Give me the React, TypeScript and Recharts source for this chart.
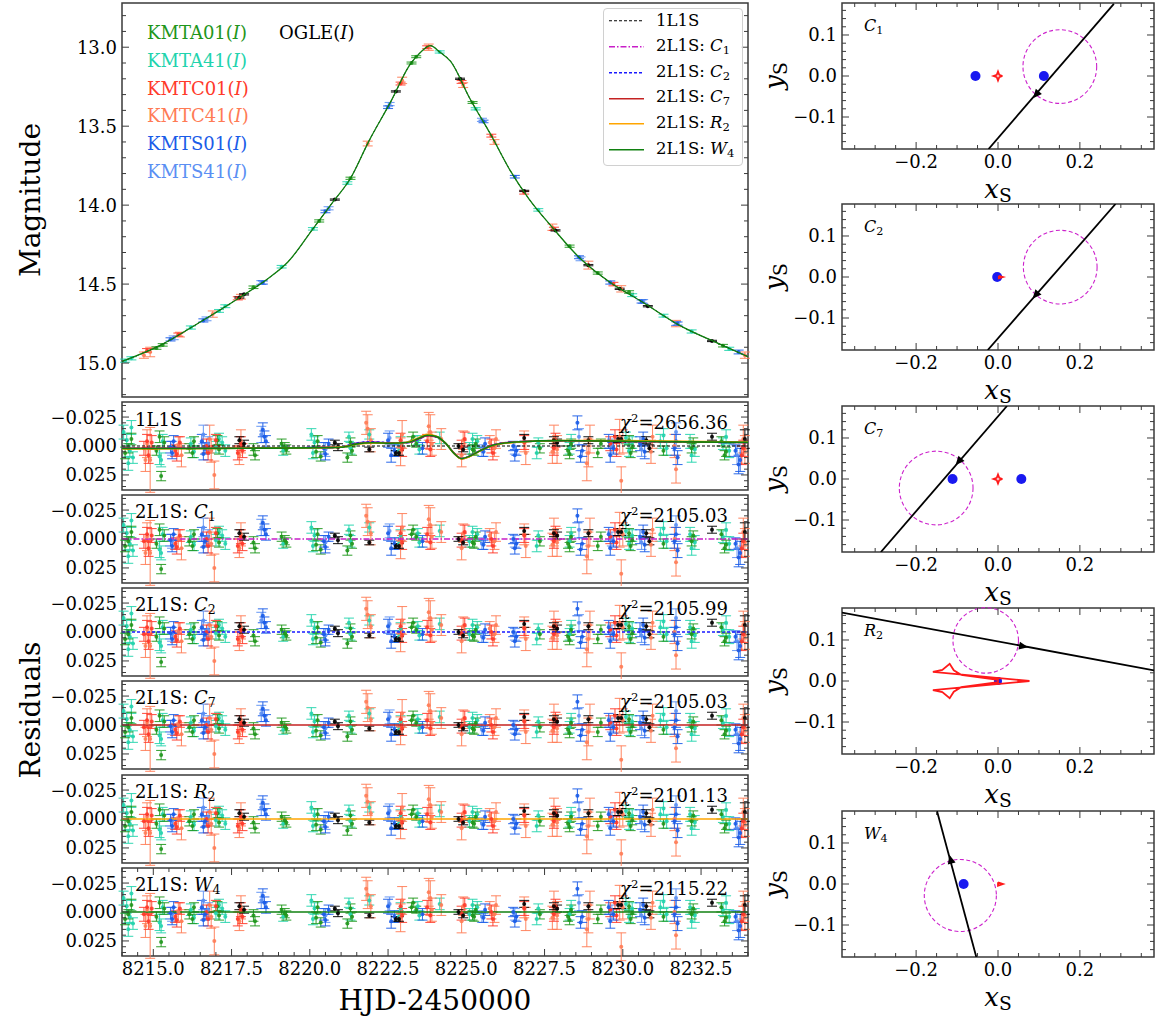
import React from 'react';
import { ScatterChart, Scatter, XAxis, YAxis, ErrorBar, ReferenceLine, ReferenceDot, ReferenceArea } from 'recharts';

const FONT = '"DejaVu Serif", serif';
const FRAME = '#3a3a3a';

// ---------- light curve: [HJD-2450000, I mag, error] ----------
const lcKMTA01 = [[8215.1, 14.905, 0.008], [8215.3, 14.885, 0.008], [8218.2, 14.52, 0.008], [8220.3, 14.1, 0.007], [8221.3, 13.83, 0.007], [8223.25, 13.1, 0.006], [8223.4, 13.06, 0.006], [8225.2, 13.35, 0.006], [8228.3, 14.26, 0.007], [8229.2, 14.43, 0.007], [8230.2, 14.55, 0.008], [8233.2, 14.89, 0.008]];
const lcKMTA41 = [[8214.1, 14.985, 0.01], [8214.3, 14.97, 0.01], [8216.2, 14.775, 0.01], [8217.1, 14.67, 0.009], [8217.3, 14.64, 0.009], [8219.1, 14.39, 0.008], [8220.1, 14.15, 0.008], [8221.2, 13.86, 0.008], [8224.15, 13.03, 0.007], [8225.3, 13.39, 0.007], [8227.3, 14.03, 0.008], [8230.3, 14.57, 0.009], [8231.3, 14.7, 0.009], [8232.2, 14.8, 0.01], [8233.4, 14.91, 0.01]];
const lcKMTC01 = [[8214.8, 14.92, 0.012], [8215.8, 14.82, 0.01], [8217.7, 14.59, 0.01], [8222.9, 13.23, 0.009], [8223.75, 13.0, 0.009], [8224.85, 13.22, 0.009], [8225.8, 13.56, 0.009], [8226.85, 13.92, 0.01], [8227.8, 14.15, 0.01], [8229.7, 14.5, 0.011]];
const lcKMTC41 = [[8214.7, 14.95, 0.02], [8214.9, 14.93, 0.03], [8215.85, 14.82, 0.015], [8216.9, 14.69, 0.02], [8217.8, 14.58, 0.015], [8221.85, 13.61, 0.015], [8222.95, 13.21, 0.02], [8223.8, 13.0, 0.02], [8224.9, 13.24, 0.015], [8225.9, 13.6, 0.015], [8227.75, 14.14, 0.02], [8228.9, 14.38, 0.025], [8229.95, 14.53, 0.02], [8231.7, 14.75, 0.02], [8233.9, 14.95, 0.02]];
const lcKMTS01 = [[8215.55, 14.85, 0.01], [8216.6, 14.73, 0.01], [8218.5, 14.49, 0.01], [8220.5, 14.04, 0.008], [8222.5, 13.38, 0.008], [8225.55, 13.47, 0.008], [8226.55, 13.82, 0.008], [8228.6, 14.33, 0.009], [8229.6, 14.49, 0.01], [8230.6, 14.61, 0.01], [8231.75, 14.75, 0.01], [8233.7, 14.93, 0.012]];
const lcKMTS41 = [[8215.65, 14.84, 0.012], [8216.7, 14.72, 0.012], [8218.45, 14.49, 0.012], [8220.6, 14.02, 0.01], [8222.55, 13.36, 0.01], [8225.5, 13.46, 0.01], [8228.65, 14.34, 0.012], [8230.65, 14.61, 0.012], [8231.7, 14.75, 0.012]];
const lcOGLE = [[8217.75, 14.585, 0.004], [8217.9, 14.565, 0.004], [8220.8, 13.965, 0.004], [8222.75, 13.28, 0.004], [8224.8, 13.2, 0.004], [8226.85, 13.91, 0.004], [8227.85, 14.16, 0.004], [8228.9, 14.38, 0.004], [8229.9, 14.53, 0.004], [8230.8, 14.64, 0.004], [8232.85, 14.86, 0.004]];

const modelT = [8214.0, 8215.2, 8216.5, 8217.8, 8218.7, 8219.3, 8220.1, 8220.7, 8221.3, 8221.9, 8222.6, 8223.2, 8223.55, 8223.85, 8224.15, 8224.5, 8225.1, 8225.8, 8226.4, 8227.0, 8227.7, 8228.6, 8229.6, 8230.6, 8231.8, 8233.1, 8234.0];
const modelMag = [14.99, 14.89, 14.74, 14.58, 14.46, 14.36, 14.15, 13.99, 13.83, 13.59, 13.34, 13.11, 13.03, 12.99, 13.03, 13.09, 13.32, 13.56, 13.78, 13.96, 14.13, 14.33, 14.49, 14.61, 14.76, 14.88, 14.96];

// ---------- residuals: [HJD-2450000, residual, error] ----------
const resKMTA01 = [[8214.1, 0.006, 0.005], [8214.2, 0.002, 0.004], [8214.3, -0.006, 0.005], [8215.1, 0.004, 0.004], [8215.2, -0.008, 0.005], [8215.25, 0.026, 0.004], [8215.35, -0.003, 0.005], [8216.15, 0.002, 0.004], [8216.25, 0.006, 0.004], [8216.3, -0.004, 0.004], [8217.05, -0.005, 0.004], [8217.1, 0.003, 0.004], [8218.2, 0.003, 0.005], [8218.25, 0.008, 0.004], [8219.1, -0.002, 0.004], [8219.2, 0.001, 0.004], [8219.25, 0.003, 0.004], [8220.2, 0.005, 0.005], [8220.25, -0.004, 0.005], [8220.35, 0.009, 0.004], [8221.2, 0.01, 0.004], [8221.3, -0.003, 0.004], [8221.35, 0.004, 0.004], [8223.25, -0.004, 0.004], [8223.3, -0.008, 0.004], [8223.4, -0.002, 0.003], [8225.2, 0.003, 0.004], [8225.25, 0.004, 0.004], [8225.3, -0.002, 0.004], [8227.35, 0.002, 0.004], [8228.25, 0.004, 0.004], [8228.3, 0.007, 0.004], [8228.35, -0.002, 0.004], [8229.2, 0.006, 0.004], [8229.3, -0.002, 0.004], [8230.2, -0.005, 0.004], [8230.25, 0.006, 0.004], [8230.3, 0.001, 0.004], [8231.3, 0.004, 0.004], [8232.2, 0.002, 0.004], [8232.25, -0.003, 0.004], [8233.15, -0.004, 0.004], [8233.25, 0.008, 0.004], [8233.3, 0.005, 0.004]];
const resKMTA41 = [[8214.05, -0.012, 0.006], [8214.15, -0.005, 0.006], [8214.2, 0.015, 0.006], [8214.25, 0.004, 0.006], [8214.3, -0.016, 0.006], [8214.35, 0.01, 0.005], [8215.2, 0.009, 0.007], [8215.25, 0.012, 0.006], [8215.3, -0.004, 0.006], [8216.2, -0.002, 0.005], [8216.3, 0.005, 0.005], [8217.0, 0.001, 0.005], [8217.1, -0.006, 0.005], [8217.2, -0.003, 0.005], [8217.3, 0.004, 0.005], [8219.15, 0.004, 0.004], [8220.05, -0.01, 0.005], [8220.1, 0.006, 0.005], [8220.15, -0.003, 0.005], [8221.25, -0.008, 0.004], [8221.3, 0.002, 0.005], [8221.9, -0.01, 0.004], [8222.85, 0.004, 0.005], [8222.9, -0.003, 0.005], [8223.45, -0.005, 0.004], [8223.5, 0.003, 0.004], [8224.15, -0.007, 0.005], [8225.1, 0.002, 0.005], [8225.2, -0.006, 0.005], [8225.35, -0.004, 0.005], [8227.25, 0.006, 0.005], [8227.3, -0.003, 0.004], [8228.3, 0.002, 0.005], [8228.35, -0.005, 0.005], [8230.1, -0.007, 0.005], [8230.2, 0.004, 0.005], [8230.3, -0.003, 0.005], [8231.2, -0.004, 0.006], [8231.3, -0.009, 0.006], [8231.4, 0.002, 0.006], [8232.15, -0.004, 0.006], [8232.2, 0.008, 0.006], [8232.3, 0.003, 0.006], [8233.2, -0.002, 0.005], [8233.3, -0.008, 0.006], [8233.4, 0.004, 0.006]];
const resKMTC01 = [[8214.7, 0.002, 0.006], [8214.8, -0.004, 0.006], [8214.85, 0.008, 0.007], [8214.95, -0.003, 0.006], [8215.7, 0.004, 0.005], [8215.75, 0.007, 0.006], [8215.85, -0.003, 0.005], [8216.7, 0.0, 0.006], [8216.75, 0.006, 0.006], [8217.0, -0.005, 0.005], [8217.7, 0.006, 0.006], [8217.8, -0.002, 0.006], [8217.85, 0.004, 0.006], [8222.9, -0.005, 0.006], [8222.95, 0.003, 0.006], [8223.75, -0.004, 0.006], [8223.85, 0.003, 0.006], [8224.85, 0.001, 0.006], [8224.95, -0.006, 0.006], [8225.8, 0.0, 0.006], [8225.85, 0.006, 0.006], [8226.85, -0.003, 0.006], [8227.8, 0.002, 0.006], [8227.85, -0.005, 0.006], [8229.6, -0.002, 0.006], [8229.75, -0.008, 0.006], [8229.8, 0.003, 0.006], [8233.8, 0.008, 0.008], [8233.85, 0.002, 0.007]];
const resKMTC41 = [[8214.75, 0.012, 0.01], [8214.8, -0.002, 0.012], [8214.9, 0.012, 0.028], [8215.8, 0.0, 0.008], [8215.9, 0.008, 0.01], [8216.8, -0.006, 0.012], [8216.85, 0.004, 0.01], [8216.95, 0.025, 0.012], [8217.75, 0.008, 0.008], [8217.8, -0.004, 0.01], [8221.8, -0.02, 0.01], [8221.85, -0.015, 0.012], [8221.95, -0.005, 0.01], [8222.9, 0.005, 0.012], [8222.95, -0.01, 0.012], [8223.8, -0.017, 0.012], [8223.85, -0.012, 0.015], [8223.9, -0.002, 0.01], [8224.2, -0.006, 0.009], [8224.85, 0.008, 0.01], [8224.9, -0.005, 0.008], [8225.75, -0.003, 0.006], [8225.9, 0.002, 0.007], [8225.95, -0.006, 0.008], [8226.85, -0.004, 0.009], [8226.9, 0.006, 0.01], [8227.75, 0.005, 0.01], [8227.8, -0.006, 0.012], [8227.9, 0.003, 0.012], [8228.85, 0.015, 0.015], [8228.9, 0.006, 0.012], [8228.95, -0.006, 0.012], [8229.9, -0.008, 0.015], [8229.95, 0.03, 0.012], [8230.0, -0.004, 0.01], [8230.9, 0.005, 0.01], [8230.95, -0.008, 0.01], [8231.65, 0.0, 0.01], [8231.7, 0.02, 0.012], [8233.85, -0.006, 0.012], [8233.9, 0.003, 0.012]];
const resKMTS01 = [[8215.55, 0.001, 0.005], [8215.6, 0.006, 0.005], [8215.65, -0.004, 0.005], [8216.55, -0.004, 0.006], [8216.6, 0.007, 0.005], [8216.65, 0.002, 0.005], [8218.5, -0.014, 0.006], [8218.55, -0.008, 0.005], [8218.6, -0.004, 0.005], [8220.45, 0.002, 0.005], [8220.5, 0.007, 0.005], [8220.6, -0.002, 0.004], [8222.5, -0.005, 0.006], [8222.6, 0.008, 0.006], [8222.7, 0.004, 0.005], [8223.6, 0.002, 0.005], [8225.55, 0.005, 0.004], [8225.6, -0.002, 0.005], [8226.5, 0.0, 0.004], [8226.55, 0.008, 0.005], [8226.6, 0.004, 0.004], [8228.55, -0.02, 0.006], [8228.65, 0.009, 0.005], [8228.7, 0.004, 0.005], [8229.55, -0.004, 0.006], [8229.6, 0.008, 0.006], [8229.7, 0.002, 0.005], [8230.55, -0.002, 0.006], [8230.65, -0.006, 0.006], [8230.7, 0.005, 0.006], [8231.65, 0.002, 0.006], [8231.7, -0.004, 0.006], [8231.75, 0.01, 0.006], [8233.6, 0.004, 0.005], [8233.7, 0.016, 0.008], [8233.75, 0.012, 0.01]];
const resKMTS41 = [[8215.6, 0.002, 0.006], [8216.6, -0.01, 0.008], [8216.75, -0.002, 0.006], [8218.45, -0.01, 0.007], [8220.5, 0.003, 0.006], [8222.55, -0.007, 0.006], [8225.5, 0.004, 0.005], [8226.55, 0.002, 0.005], [8228.6, -0.008, 0.007], [8229.65, 0.0, 0.006], [8230.6, 0.003, 0.006], [8231.7, -0.012, 0.008], [8233.65, 0.008, 0.008]];
const resOGLE = [[8217.75, -0.005, 0.003], [8217.9, -0.002, 0.003], [8220.8, -0.003, 0.002], [8220.9, 0.001, 0.003], [8221.9, 0.003, 0.002], [8222.75, 0.006, 0.002], [8222.85, 0.006, 0.002], [8224.75, 0.0, 0.002], [8224.9, 0.003, 0.002], [8226.85, -0.007, 0.003], [8227.8, -0.005, 0.003], [8227.9, -0.003, 0.003], [8228.9, -0.005, 0.003], [8229.85, -0.006, 0.003], [8229.95, -0.006, 0.003], [8230.75, -0.005, 0.003], [8230.85, 0.002, 0.003], [8232.85, -0.008, 0.003], [8233.9, -0.006, 0.008]];

// 2L1S models relative to the 1L1S model
const anomT = [8214, 8216, 8218, 8220, 8221, 8221.5, 8222, 8222.6, 8223.1, 8223.45, 8223.75, 8224.05, 8224.35, 8224.6, 8224.85, 8225.1, 8225.45, 8225.9, 8226.6, 8228, 8230, 8232, 8234];
const anomC1 = [0.002, 0.002, 0.0018, 0.0014, 0.0008, -0.0025, -0.0035, -0.0028, -0.0028, -0.0055, -0.0088, -0.0078, -0.0018, 0.0058, 0.0108, 0.0088, 0.0038, -0.0012, -0.0036, -0.0044, -0.004, -0.0034, -0.003];
const anomC2 = [0.002, 0.002, 0.0018, 0.0014, 0.0008, -0.0026, -0.0036, -0.0028, -0.0029, -0.0056, -0.0089, -0.0078, -0.0019, 0.0058, 0.0108, 0.0088, 0.0038, -0.0012, -0.0036, -0.0044, -0.004, -0.0034, -0.003];
const anomC7 = [0.002, 0.002, 0.0018, 0.0015, 0.001, -0.002, -0.003, -0.0025, -0.003, -0.006, -0.009, -0.008, -0.002, 0.006, 0.011, 0.009, 0.004, -0.001, -0.0035, -0.0045, -0.004, -0.0035, -0.003];
const anomR2 = [0.0025, 0.0024, 0.002, 0.0016, 0.001, -0.0015, -0.0025, -0.0022, -0.0032, -0.0068, -0.0102, -0.0085, -0.0022, 0.0062, 0.0112, 0.0092, 0.0042, -0.0008, -0.0032, -0.0048, -0.0046, -0.004, -0.0035];
const anomW4 = [0.0022, 0.0021, 0.0019, 0.0016, 0.0011, -0.0018, -0.0028, -0.0024, -0.003, -0.0062, -0.0093, -0.0081, -0.002, 0.0062, 0.0109, 0.0089, 0.004, -0.001, -0.0034, -0.0046, -0.0042, -0.0036, -0.0031];

const chi2 = ['2656.36', '2105.03', '2105.99', '2105.03', '2101.13', '2115.22'];

// ---------- caustic geometry panels ----------
const lensC1 = [[-0.055, 0], [0.112, 0]];
const trajC1 = [[-0.023, -0.178], [0.283, 0.176]];
const circC1 = [0.151, 0.023, 0.09];
const arrowC1 = [0.095, -0.043, -0.306, -0.355];
const causC1 = [[0.011, 0], [0.003, 0.003], [0, 0.011], [-0.003, 0.003], [-0.011, 0], [-0.003, -0.003], [0, -0.011], [0.003, -0.003], [0.011, 0]];

const lensC2 = [[-0.002, 0]];
const trajC2 = [[-0.025, -0.178], [0.287, 0.178]];
const circC2 = [0.152, 0.024, 0.09];
const arrowC2 = [0.094, -0.042, -0.306, -0.355];
const causC2 = [[0.002, 0.003], [0.012, 0], [0.002, -0.003], [0.002, 0.003]];

const lensC7 = [[-0.111, 0], [0.057, 0]];
const trajC7 = [[-0.286, -0.178], [0.022, 0.178]];
const circC7 = [-0.151, -0.022, 0.09];
const arrowC7 = [-0.094, 0.045, -0.308, -0.356];
const causC7 = [[0.011, 0], [0.003, 0.003], [0, 0.011], [-0.003, 0.003], [-0.011, 0], [-0.003, -0.003], [0, -0.011], [0.003, -0.003], [0.011, 0]];

const lensR2 = [[0, 0]];
const trajR2 = [[-0.381, 0.167], [0.381, 0.026]];
const circR2 = [-0.03, 0.099, 0.08];
const arrowR2 = [0.059, 0.085, 0.762, -0.141];
const causR2 = [[0.077, 0], [-0.159, 0.022], [-0.136, 0.027], [-0.118, 0.042], [-0.108, 0.026], [-0.09, 0.015], [0.0, 0.003], [0.0, -0.003], [-0.09, -0.015], [-0.108, -0.026], [-0.118, -0.042], [-0.136, -0.027], [-0.159, -0.022], [0.077, 0]];

const lensW4 = [[-0.084, 0]];
const trajW4 = [[-0.149, 0.178], [-0.053, -0.178]];
const circW4 = [-0.092, -0.028, 0.088];
const arrowW4 = [-0.115, 0.057, -0.096, 0.356];
const causW4 = [[0.0, 0.004], [0.012, 0], [0.0, -0.004], [0.0, 0.004]];

const causticPanels = [
  { name: 'C', sub: '1', lens: lensC1, traj: trajC1, circ: circC1, arrow: arrowC1, caus: causC1 },
  { name: 'C', sub: '2', lens: lensC2, traj: trajC2, circ: circC2, arrow: arrowC2, caus: causC2 },
  { name: 'C', sub: '7', lens: lensC7, traj: trajC7, circ: circC7, arrow: arrowC7, caus: causC7 },
  { name: 'R', sub: '2', lens: lensR2, traj: trajR2, circ: circR2, arrow: arrowR2, caus: causR2 },
  { name: 'W', sub: '4', lens: lensW4, traj: trajW4, circ: circW4, arrow: arrowW4, caus: causW4 },
];

// ---------- styles ----------
const colors: Record<string, string> = {
  KMTA01: '#1f961c', KMTA41: '#22d3ad', KMTC01: '#ff3a2a', KMTC41: '#ff7b55',
  KMTS01: '#1a5ce8', KMTS41: '#5b8ff3', OGLE: '#000000',
};
const modelStyle: Record<string, { stroke: string; dash?: string; w: number }> = {
  L: { stroke: '#000', dash: '3 2', w: 1 },
  C1: { stroke: '#c81ec8', dash: '6 2 1.5 2', w: 1.4 },
  C2: { stroke: '#1a1aff', dash: '3 2', w: 1.4 },
  C7: { stroke: '#c42222', w: 1.4 },
  R2: { stroke: '#ffa500', w: 1.4 },
  W4: { stroke: '#108010', w: 1.4 },
};

const pts = (a: number[][]) => a.map(([x, y, e]) => ({ x, y, e }));
const curve = (t: number[], v: number[]) => t.map((x, i) => ({ x, y: v[i] }));
const steps = (a: number, b: number, s: number) => {
  const out: number[] = [];
  for (let v = a; v <= b + s / 1000; v += s) out.push(+v.toFixed(4));
  return out;
};
const minus = (s: string) => s.replace('-', '\u2212');
const noShape = () => <g />;
const dotShape = (c: string, r: number) => (p: any) => <circle cx={p.cx} cy={p.cy} r={r} fill={c} fillOpacity={0.9} />;

const tickStyle = { fill: '#000', fontSize: 18, fontFamily: FONT };
const isIn = (list: number[], v: number) => list.some((m) => Math.abs(m - v) < 1e-9);

// inward ticks on both opposite sides (matplotlib style), labels only on majors
const xTick = (plotH: number, major: number[], fmt?: (v: number) => string) => (p: any) => {
  const v = p.payload.value;
  const maj = isIn(major, v);
  const L = maj ? 7 : 4;
  return (
    <g>
      <line x1={p.x} x2={p.x} y1={p.y} y2={p.y - L} stroke={FRAME} strokeWidth={1} />
      <line x1={p.x} x2={p.x} y1={p.y - plotH} y2={p.y - plotH + L} stroke={FRAME} strokeWidth={1} />
      {maj && fmt && (
        <text x={p.x} y={p.y + 19} textAnchor="middle" style={tickStyle}>{fmt(v)}</text>
      )}
    </g>
  );
};
const yTick = (plotW: number, major: number[], fmt: (v: number) => string) => (p: any) => {
  const v = p.payload.value;
  const maj = isIn(major, v);
  const L = maj ? 7 : 4;
  return (
    <g>
      <line x1={p.x} x2={p.x + L} y1={p.y} y2={p.y} stroke={FRAME} strokeWidth={1} />
      <line x1={p.x + plotW - L} x2={p.x + plotW} y1={p.y} y2={p.y} stroke={FRAME} strokeWidth={1} />
      {maj && (
        <text x={p.x - 5} y={p.y} dy="0.36em" textAnchor="end" style={tickStyle}>{fmt(v)}</text>
      )}
    </g>
  );
};

type Frame = {
  xd: [number, number]; yd: [number, number];
  xMaj: number[]; xAll: number[]; yMaj: number[]; yAll: number[];
  xFmt?: (v: number) => string; yFmt: (v: number) => string;
  yW: number; xH: number; pw: number; ph: number; rev?: boolean;
};

function frameAxes(f: Frame) {
  return [
    <XAxis key="x" dataKey="x" type="number" domain={f.xd} allowDataOverflow ticks={f.xAll} interval={0}
      height={f.xH} tickSize={0} tickMargin={0} axisLine={false} tickLine={false} tick={xTick(f.ph, f.xMaj, f.xFmt)} />,
    <YAxis key="y" dataKey="y" type="number" domain={f.yd} allowDataOverflow reversed={f.rev} ticks={f.yAll} interval={0}
      width={f.yW} tickSize={0} tickMargin={0} axisLine={false} tickLine={false} tick={yTick(f.pw, f.yMaj, f.yFmt)} />,
  ];
}
const frameBox = (f: { xd: [number, number]; yd: [number, number] }) => (
  <ReferenceArea x1={f.xd[0]} x2={f.xd[1]} y1={f.yd[0]} y2={f.yd[1]} fill="none" fillOpacity={0} stroke={FRAME} strokeWidth={1.5} />
);

const dataSets: [string, number[][]][] = [
  ['KMTA41', lcKMTA41], ['KMTC41', lcKMTC41], ['KMTS41', lcKMTS41],
  ['KMTA01', lcKMTA01], ['KMTC01', lcKMTC01], ['KMTS01', lcKMTS01], ['OGLE', lcOGLE],
];
const resSets: [string, number[][]][] = [
  ['KMTA41', resKMTA41], ['KMTC41', resKMTC41], ['KMTS41', resKMTS41],
  ['KMTA01', resKMTA01], ['KMTC01', resKMTC01], ['KMTS01', resKMTS01], ['OGLE', resOGLE],
];

const series = (sets: [string, number[][]][]) =>
  sets.map(([name, arr]) => (
    <Scatter key={name} data={pts(arr)} shape={dotShape(colors[name], 2)} isAnimationActive={false}>
      <ErrorBar dataKey="e" direction="y" width={5} stroke={colors[name]} strokeWidth={1.1} strokeOpacity={0.85} />
    </Scatter>
  ));

const X_DOMAIN: [number, number] = [8214, 8234];
const xMajor = [8215, 8217.5, 8220, 8222.5, 8225, 8227.5, 8230, 8232.5];
const xAll = steps(8214, 8234, 0.5);
const LEFT_W = 626;

function MainPanel() {
  const f: Frame = {
    xd: X_DOMAIN, yd: [12.72, 15.215], rev: true,
    xMaj: xMajor, xAll,
    yMaj: [13, 13.5, 14, 14.5, 15], yAll: steps(12.8, 15.2, 0.1),
    yFmt: (v) => v.toFixed(1), yW: 122, xH: 0, pw: LEFT_W, ph: 394,
  };
  return (
    <ScatterChart width={760} height={400} margin={{ top: 3, right: 12, bottom: 3, left: 0 }}>
      {frameAxes(f)}
      {series(dataSets)}
      <Scatter data={curve(modelT, modelMag)} shape={noShape} line={{ stroke: '#000', strokeWidth: 1, strokeDasharray: '3 2' }} lineJointType="monotoneX" isAnimationActive={false} />
      <Scatter data={curve(modelT, modelMag)} shape={noShape} line={{ stroke: '#108010', strokeWidth: 1.3 }} lineJointType="monotoneX" isAnimationActive={false} />
      {frameBox(f)}
    </ScatterChart>
  );
}

const resTops = [402, 495, 588, 681, 775, 868];
const RES_H = 88;
const resModels = ['L', 'C1', 'C2', 'C7', 'R2', 'W4'];
const anomSets: [string, number[]][] = [['C1', anomC1], ['C2', anomC2], ['C7', anomC7], ['R2', anomR2], ['W4', anomW4]];

function ResidualPanel({ i }: { i: number }) {
  const last = i === resTops.length - 1;
  const xH = last ? 34 : 0;
  const m = modelStyle[resModels[i]];
  const f: Frame = {
    xd: X_DOMAIN, yd: [-0.038, 0.038], rev: true,
    xMaj: xMajor, xAll,
    yMaj: [-0.025, 0, 0.025], yAll: steps(-0.035, 0.035, 0.005),
    xFmt: last ? (v) => v.toFixed(1) : undefined,
    yFmt: (v) => minus(v.toFixed(3)), yW: 122, xH, pw: LEFT_W, ph: RES_H,
  };
  return (
    <ScatterChart width={760} height={RES_H + 6 + xH} margin={{ top: 3, right: 12, bottom: 3, left: 0 }}>
      {frameAxes(f)}
      {series(resSets)}
      <ReferenceLine y={0} stroke={m.stroke} strokeWidth={m.w} strokeDasharray={m.dash} />
      {i === 0 &&
        anomSets.map(([k, v]) => (
          <Scatter key={k} data={curve(anomT, v)} shape={noShape} lineJointType="monotoneX"
            line={{ stroke: modelStyle[k].stroke, strokeWidth: 1.6, strokeDasharray: modelStyle[k].dash }} isAnimationActive={false} />
        ))}
      {frameBox(f)}
    </ScatterChart>
  );
}

const cTops = [3, 204, 406, 608, 811];
const C_H = 146;
const C_W = 312;
const C_XD: [number, number] = [-0.381, 0.381];
const PPU = C_W / (C_XD[1] - C_XD[0]);

const arrowShape = (dx: number, dy: number) => (p: any) => {
  const a = Math.atan2(-dy, dx);
  const c = Math.cos(a), s = Math.sin(a);
  const tip = [p.cx + 6 * c, p.cy + 6 * s];
  const b1 = [p.cx - 3 * c - 4 * s, p.cy - 3 * s + 4 * c];
  const b2 = [p.cx - 3 * c + 4 * s, p.cy - 3 * s - 4 * c];
  return <polygon points={`${tip.join(',')} ${b1.join(',')} ${b2.join(',')}`} fill="#000" />;
};

function CausticPanel({ j }: { j: number }) {
  const c = causticPanels[j];
  const f: Frame = {
    xd: C_XD, yd: [-0.178, 0.178],
    xMaj: [-0.2, 0, 0.2], xAll: steps(-0.35, 0.35, 0.05),
    yMaj: [-0.1, 0, 0.1], yAll: steps(-0.16, 0.16, 0.02),
    xFmt: (v) => minus(v.toFixed(1)), yFmt: (v) => minus(v.toFixed(1)), yW: 62, xH: 24, pw: C_W, ph: C_H,
  };
  return (
    <ScatterChart width={376} height={3 + C_H + 24} margin={{ top: 3, right: 2, bottom: 0, left: 0 }}>
      {frameAxes(f)}
      <ReferenceDot x={c.circ[0]} y={c.circ[1]} r={c.circ[2] * PPU} fill="none" stroke="#cc22cc" strokeWidth={1.1} strokeDasharray="4 2.5" ifOverflow="visible" />
      <Scatter data={pts(c.traj)} shape={noShape} line={{ stroke: '#000', strokeWidth: 1.8 }} isAnimationActive={false} />
      <Scatter data={pts(c.lens)} shape={dotShape('#0000ee', j === 3 ? 4 : 5)} isAnimationActive={false} />
      <Scatter data={pts(c.caus)} shape={noShape} line={{ stroke: '#ff1a1a', strokeWidth: 1.8 }} isAnimationActive={false} />
      <Scatter data={[{ x: c.arrow[0], y: c.arrow[1] }]} shape={arrowShape(c.arrow[2], c.arrow[3])} isAnimationActive={false} />
      {frameBox(f)}
    </ScatterChart>
  );
}

const legendRows = [
  { k: 'L', text: '1L1S' },
  { k: 'C1', text: '2L1S: ', it: 'C', sub: '1' },
  { k: 'C2', text: '2L1S: ', it: 'C', sub: '2' },
  { k: 'C7', text: '2L1S: ', it: 'C', sub: '7' },
  { k: 'R2', text: '2L1S: ', it: 'R', sub: '2' },
  { k: 'W4', text: '2L1S: ', it: 'W', sub: '4' },
];
const telLabels = ['KMTA01', 'KMTA41', 'KMTC01', 'KMTC41', 'KMTS01', 'KMTS41'];
const resLabels = [
  { text: '1L1S' }, { text: '2L1S: ', it: 'C', sub: '1' }, { text: '2L1S: ', it: 'C', sub: '2' },
  { text: '2L1S: ', it: 'C', sub: '7' }, { text: '2L1S: ', it: 'R', sub: '2' }, { text: '2L1S: ', it: 'W', sub: '4' },
];

const abs = (left: number, top: number, extra: React.CSSProperties = {}): React.CSSProperties => ({
  position: 'absolute', left, top, ...extra,
});
const subStyle: React.CSSProperties = { fontSize: '0.7em', verticalAlign: '-0.25em', fontStyle: 'normal' };

export default function App() {
  return (
    <div style={{ position: 'absolute', left: 0, top: 0, width: 1156, height: 1019, background: '#fff', fontFamily: FONT, color: '#000', overflow: 'hidden' }}>
      <div style={abs(0, 0)}><MainPanel /></div>
      {resTops.map((t, i) => (
        <div key={i} style={abs(0, t - 3)}><ResidualPanel i={i} /></div>
      ))}
      {cTops.map((t, j) => (
        <div key={j} style={abs(780, t - 3)}><CausticPanel j={j} /></div>
      ))}

      {/* telescope labels */}
      {telLabels.map((n, i) => (
        <div key={n} style={abs(147, 33 + i * 27.8, { fontSize: 18, color: colors[n], lineHeight: 1, transform: 'translateY(-50%)' })}>
          {n}(<i>I</i>)
        </div>
      ))}
      <div style={abs(279, 33, { fontSize: 18, lineHeight: 1, transform: 'translateY(-50%)' })}>OGLE(<i>I</i>)</div>

      {/* legend */}
      <div style={abs(603, 8, { width: 138, height: 156, border: '1px solid #d0d0d0', borderRadius: 4, background: 'rgba(255,255,255,0.85)' })}>
        {legendRows.map((r, i) => (
          <div key={r.k} style={abs(0, 12 + i * 25.8, { display: 'flex', alignItems: 'center', transform: 'translateY(-50%)', fontSize: 16.5, lineHeight: 1, whiteSpace: 'nowrap' })}>
            <svg width={52} height={10} style={{ display: 'block' }}>
              <line x1={5} x2={40} y1={5} y2={5} stroke={modelStyle[r.k].stroke} strokeWidth={modelStyle[r.k].w} strokeDasharray={modelStyle[r.k].dash} />
            </svg>
            <span>{r.text}{r.it && <i>{r.it}</i>}{r.sub && <span style={subStyle}>{r.sub}</span>}</span>
          </div>
        ))}
      </div>

      {/* residual panel labels */}
      {resLabels.map((r, i) => (
        <React.Fragment key={i}>
          <div style={abs(135, resTops[i] + 18, { fontSize: 18, lineHeight: 1, transform: 'translateY(-50%)', whiteSpace: 'nowrap' })}>
            {r.text}{r.it && <i>{r.it}</i>}{r.sub && <span style={subStyle}>{r.sub}</span>}
          </div>
          <div style={abs(560, resTops[i] + 20, { width: 168, textAlign: 'right', fontSize: 18, lineHeight: 1, transform: 'translateY(-50%)', whiteSpace: 'nowrap' })}>
            <i>χ</i><sup style={{ fontSize: '0.65em' }}>2</sup>={chi2[i]}
          </div>
        </React.Fragment>
      ))}

      {/* axis titles */}
      <div style={abs(30, 200, { fontSize: 28, transform: 'translate(-50%, -50%) rotate(-90deg)', whiteSpace: 'nowrap' })}>Magnitude</div>
      <div style={abs(30, 710, { fontSize: 28, transform: 'translate(-50%, -50%) rotate(-90deg)', whiteSpace: 'nowrap' })}>Residuals</div>
      <div style={abs(435, 1000, { fontSize: 28, transform: 'translate(-50%, -50%)', whiteSpace: 'nowrap' })}>HJD-2450000</div>

      {/* caustic panel labels */}
      {cTops.map((t, j) => (
        <React.Fragment key={j}>
          <div style={abs(864, t + 24, { fontSize: 16, lineHeight: 1, transform: 'translateY(-50%)' })}>
            <i>{causticPanels[j].name}</i><span style={subStyle}>{causticPanels[j].sub}</span>
          </div>
          <div style={abs(998, t + C_H + 42, { fontSize: 26, lineHeight: 1, transform: 'translate(-50%, -50%)', whiteSpace: 'nowrap' })}>
            <i>x</i><span style={{ fontSize: '0.72em', verticalAlign: '-0.25em' }}>S</span>
          </div>
          <div style={abs(776, t + C_H / 2, { fontSize: 26, lineHeight: 1, transform: 'translate(-50%, -50%) rotate(-90deg)', whiteSpace: 'nowrap' })}>
            <i>y</i><span style={{ fontSize: '0.72em', verticalAlign: '-0.25em' }}>S</span>
          </div>
        </React.Fragment>
      ))}
    </div>
  );
}
